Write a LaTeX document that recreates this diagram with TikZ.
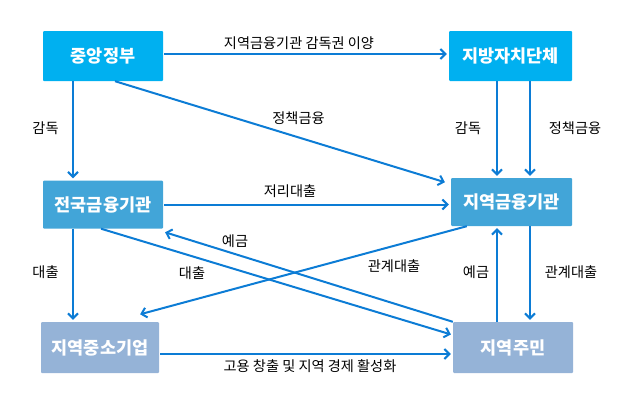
\documentclass[tikz,border=0pt]{standalone}
\usepackage{fontspec}
\setmainfont{Noto Sans CJK KR}
\usetikzlibrary{arrows.meta}
\definecolor{topbox}{HTML}{00B0F0}
\definecolor{midbox}{HTML}{42A5D8}
\definecolor{lowbox}{HTML}{95B3D7}
\definecolor{arrowc}{HTML}{0C7CD5}
\tikzset{
  box/.style={minimum width=120pt, minimum height=50pt, inner sep=0pt, rounded corners=1pt,
    font=\fontsize{17.5}{19}\selectfont\bfseries, text=white},
  lab/.style={font=\fontsize{14.2}{16}\selectfont, text=black, inner sep=0pt},
  arr/.style={draw=arrowc, line width=2pt, shorten >=2pt,
    -{Straight Barb[length=5pt,width=10pt,line width=2pt]}},
}
\begin{document}
\begin{tikzpicture}[x=1pt,y=-1pt]
\useasboundingbox (0,0) rectangle (620,407);
% boxes
\node[box, fill=topbox, minimum width=120pt] (A) at (103,56) {중앙정부};
\node[box, fill=topbox, minimum width=123pt] (B) at (510.5,56) {지방자치단체};
\node[box, fill=midbox, minimum height=48pt] (C) at (103,204.5) {전국금융기관};
\node[box, fill=midbox, minimum width=121pt, minimum height=48pt] (D) at (511.5,202) {지역금융기관};
\node[box, fill=lowbox, minimum width=118pt, minimum height=51pt] (E) at (100,347.5) {지역중소기업};
\node[box, fill=lowbox, minimum height=51pt] (F) at (513,347.5) {지역주민};
% top row
\draw[arr, shorten <=1pt] ([yshift=2pt]A.east) -- ([yshift=2pt]A.east -| B.west);
\node[lab] (l1) at (299,43) {지역금융기관 감독권 이양};
% A -> C
\draw[arr] ([xshift=-30pt]A.south) -- ([xshift=-30pt]A.south |- C.north);
\node[lab] (l2) at (45.5,128) {감독};
% A -> D
\draw[arr] ([xshift=12pt]A.south) -- ([xshift=-4pt,yshift=-5pt]D.north west);
\node[lab] (l3) at (298.5,118) {정책금융};
% B -> D
\draw[arr] ([xshift=-13.5pt]B.south) -- ([xshift=-13.5pt]B.south |- D.north);
\node[lab] (l4) at (468,128) {감독};
\draw[arr] ([xshift=19.5pt]B.south) -- ([xshift=19.5pt]B.south |- D.north);
\node[lab] (l5) at (575,128) {정책금융};
% C -> D
\draw[arr, shorten <=1pt] (C.east) -- (C.east -| D.west);
\node[lab] (l6) at (290,191) {저리대출};
% C -> E
\draw[arr] ([xshift=-30pt]C.south) -- ([xshift=-30pt]C.south |- E.north);
\node[lab] (l7) at (45.5,272) {대출};
% C -> F
\draw[arr] ([xshift=-2pt]C.south) -- ([yshift=12.5pt]F.west);
\node[lab] (l8) at (192,273) {대출};
% F -> C
\draw[arr] (F.north west) -- ([yshift=-3pt]C.south east);
\node[lab] (l9) at (235,241) {예금};
% D -> E
\draw[arr] ([xshift=16pt]D.south west) -- ([xshift=-21pt,yshift=7pt]E.north east);
\node[lab] (l10) at (394,266) {관계대출};
% F -> D, D -> F
\draw[arr] ([xshift=-16pt]F.north) -- ([xshift=-16pt]F.north |- D.south);
\node[lab] (l11) at (476,272) {예금};
\draw[arr] ([xshift=18.5pt]D.south) -- ([xshift=18.5pt]D.south |- F.north);
\node[lab] (l12) at (571,272) {관계대출};
% E -> F
\draw[arr, shorten <=1pt] ([yshift=-6.5pt]E.east) -- ([yshift=-6.5pt]E.east -| F.west);
\node[lab] (l13) at (310,366) {고용 창출 및 지역 경제 활성화};
\end{tikzpicture}
\end{document}
